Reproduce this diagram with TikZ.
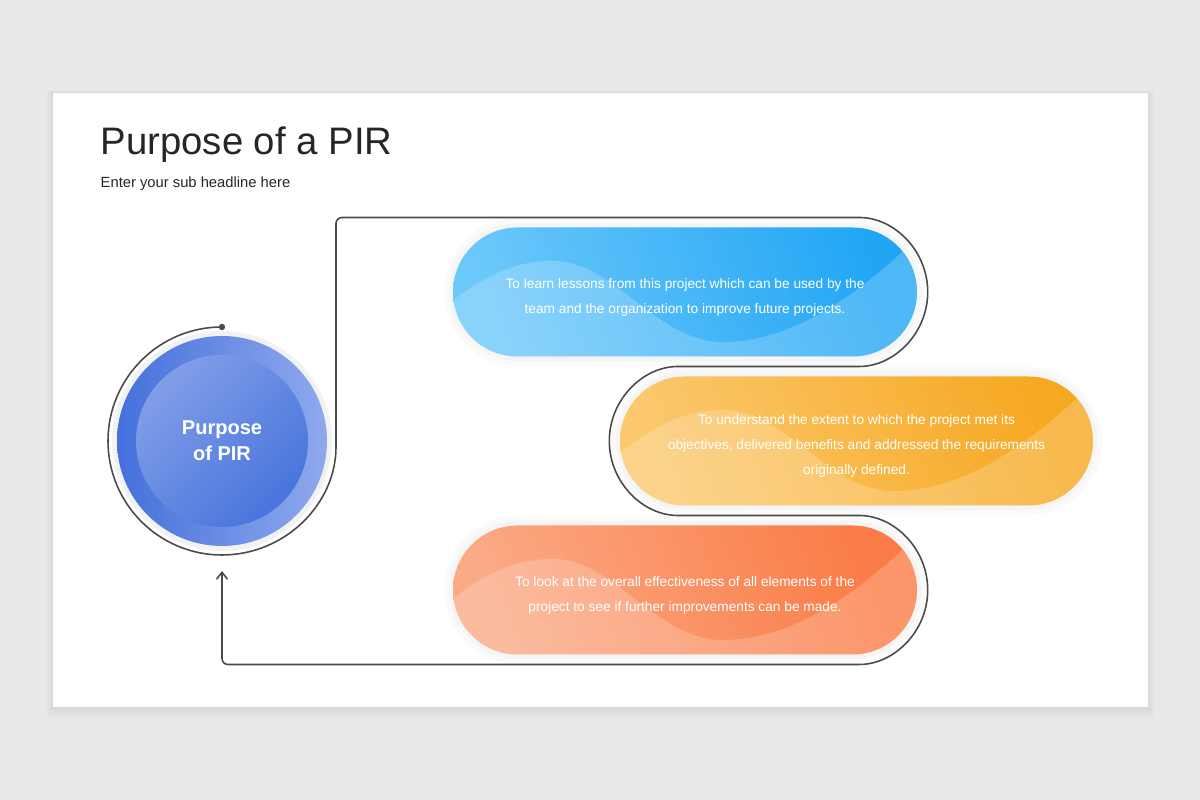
\documentclass[tikz,border=0pt]{standalone}
\usepackage{fontspec}
\setmainfont{Liberation Sans}
\usetikzlibrary{calc,arrows.meta,shapes.misc}

\definecolor{bgcol}{HTML}{E9E8E9}
\definecolor{linecol}{HTML}{4A4A4A}
\definecolor{titlecol}{HTML}{262626}
\definecolor{bluedark}{HTML}{22A6F4}
\definecolor{bluelight}{HTML}{6CC8FA}
\definecolor{orangedark}{HTML}{F6A821}
\definecolor{orangelight}{HTML}{FBC86E}
\definecolor{reddark}{HTML}{FA7B45}
\definecolor{redlight}{HTML}{FBAA86}
\definecolor{ringdark}{HTML}{4570DC}
\definecolor{ringlight}{HTML}{8FA9EC}
\definecolor{coredark}{HTML}{4874DC}
\definecolor{corelight}{HTML}{819EE8}

\newcommand\padtop{\rule{0pt}{5.8pt}}

\tikzset{
	pill/.style={rounded rectangle, minimum width=46.4mm, minimum height=12.9mm, inner sep=0pt,
		text=white, align=center, font=\fontsize{3.9}{7.1}\selectfont},
	flow/.style={draw=linecol, line width=0.45pt, rounded corners=0.6mm},
}

\begin{document}
\begin{tikzpicture}[x=0.1mm, y=0.1mm]

% parameters %{{{2

	\def\bend{74.5}
	\def\ring{114}

% slide %{{{2

	\fill[bgcol] (0,0) rectangle (1200,800);
	\foreach \s in {1,...,8} {
		\fill[black, opacity=0.008] (53-\s*0.8, 93-\s*1.5) rectangle (1148+\s*0.8, 707+\s*0.3);
	}
	\fill[white] (53,93) rectangle (1148,707);

% titles %{{{2

	\node[anchor=base west, inner sep=0, text=titlecol, font=\fontsize{10.9}{12}\selectfont] (title) at (100,645) {Purpose of a PIR};
	\node[anchor=base west, inner sep=0, text=titlecol, font=\fontsize{4.2}{5}\selectfont] (sub) at (100,612) {Enter your sub headline here};

% hub %{{{2

	\coordinate (C) at (222,359);

	\fill[black!5] (C) circle (110);
	\node[circle, minimum size=21mm, inner sep=0, left color=ringdark, right color=ringlight] (hub) at (C) {};
	\node[circle, minimum size=17.2mm, inner sep=0, top color=corelight, bottom color=coredark, shading angle=45,
		text=white, align=center, font=\bfseries\fontsize{5.7}{7.4}\selectfont] (core) at (C) {Purpose\\of PIR};

% pill bodies %{{{2

	\foreach \cx/\cy/\w/\dk/\lt in {685/508/464/bluedark/bluelight, 856.5/359/473/orangedark/orangelight, 685/210/464/reddark/redlight} {
		\fill[black, opacity=0.02, rounded corners=7.4mm] (\cx-\w/2-9, \cy-74) rectangle (\cx+\w/2+9, \cy+74);
		\fill[black, opacity=0.02, rounded corners=6.9mm] (\cx-\w/2-4, \cy-69) rectangle (\cx+\w/2+4, \cy+69);
		\begin{scope}
			\clip[rounded corners=6.45mm] (\cx-\w/2, \cy-64.5) rectangle (\cx+\w/2, \cy+64.5);
			\shade[top color=\dk, bottom color=\lt, shading angle=-70] (\cx-\w/2, \cy-64.5) rectangle (\cx+\w/2, \cy+64.5);
			\fill[white, opacity=0.2, shift={(\cx,\cy)}] (-250,-22) .. controls (-200,18) and (-170,31) .. (-132,31)
				.. controls (-70,31) and (-30,-50) .. (38,-50)
				.. controls (110,-50) and (180,0) .. (250,72) -- (250,-80) -- (-250,-80) -- cycle;
		\end{scope}
	}

% pill texts %{{{2

	\node[pill] (learn) at (685,508)
		{\padtop To learn lessons from this project which can be used by the\\team and the organization to improve future projects.};
	\node[pill, minimum width=47.3mm] (meet) at (856.5,359)
		{\padtop To understand the extent to which the project met its\\objectives, delivered benefits and addressed the requirements\\originally defined.};
	\node[pill] (review) at (685,210)
		{\padtop To look at the overall effectiveness of all elements of the\\project to see if further improvements can be made.};

% flow line %{{{2

	\coordinate (start) at ($(C)+(0,\ring)$);
	\coordinate (b1) at ($(learn.east)+(-64.5,\bend)$);
	\coordinate (b2) at ($(meet.west)+(64.5,\bend)$);
	\coordinate (b3) at ($(review.east)+(-64.5,\bend)$);
	\coordinate (tip) at (222,229);

	\draw[flow, -{Straight Barb[length=0.7mm, width=1.1mm]}] (start)
		arc[start angle=90, end angle=360, radius=\ring] |- (b1)
		arc[start angle=90, end angle=-90, radius=\bend] -- (b2)
		arc[start angle=90, end angle=270, radius=\bend] -- (b3)
		arc[start angle=90, end angle=-90, radius=\bend] -| (tip);

	\fill[linecol] (start) circle (3.2);

% closing %{{{2

\end{tikzpicture}
\end{document}
